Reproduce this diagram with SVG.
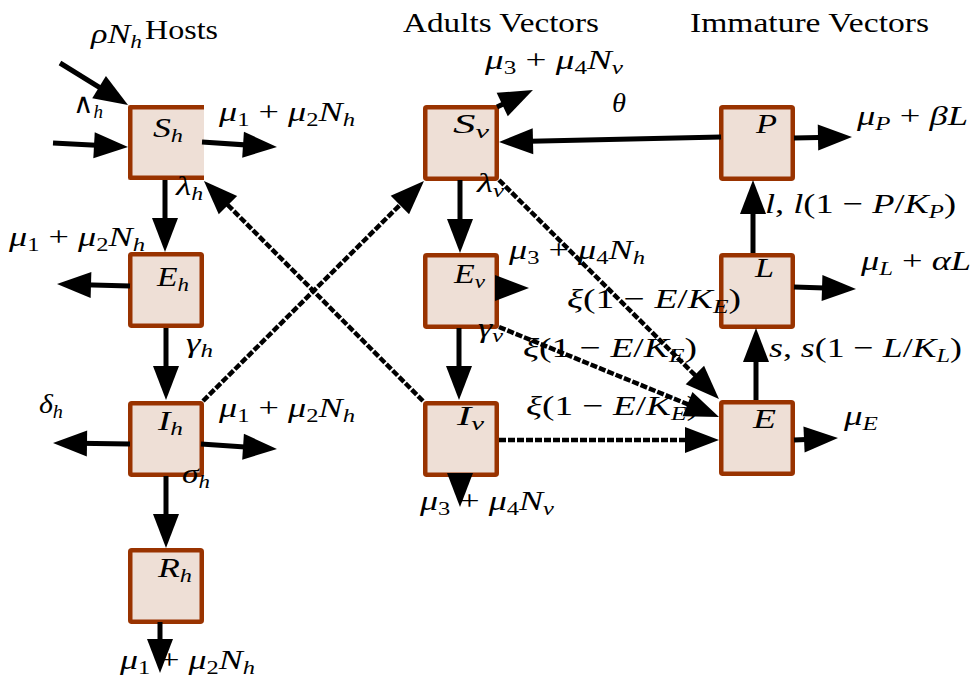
<svg xmlns="http://www.w3.org/2000/svg" width="973" height="679" viewBox="0 0 973 679">
<defs>
<style>
.box{fill:#EEDFD6;stroke:#993300;stroke-width:4.5;stroke-linejoin:round}
text{font-family:'Liberation Serif','DejaVu Serif',serif;font-size:28px;fill:#000}
.i{font-style:italic}
.sb{font-size:19px}
.c{stroke:#000;stroke-width:5;fill:none;marker-end:url(#ah)}
.d{stroke:#000;stroke-width:4.5;fill:none;stroke-dasharray:7 2;marker-end:url(#ah)}
</style>
<marker id="ah" markerUnits="userSpaceOnUse" markerWidth="36" markerHeight="28" viewBox="0 0 36 28" refX="26" refY="13" orient="auto" overflow="visible">
<path d="M0,0 L34,13 L0,26 Z" fill="#000"/>
</marker>
</defs>

<g id="Sh">
<rect x="128" y="105" width="76" height="75" fill="#EEDFD6"/>
<path d="M204,107.25 H130.25 V177.75 H204" fill="none" stroke="#993300" stroke-width="4.5" stroke-linejoin="round"/>
<text x="153" y="137" textLength="30" lengthAdjust="spacingAndGlyphs"><tspan class="i">S</tspan><tspan class="sb i" dy="5">h</tspan></text>
</g>
<g id="Eh">
<rect class="box" x="130.25" y="254.25" width="71.5" height="71.5" rx="1.5"/>
<text x="157" y="286" textLength="32" lengthAdjust="spacingAndGlyphs"><tspan class="i">E</tspan><tspan class="sb i" dy="5">h</tspan></text>
</g>
<g id="Ih">
<rect class="box" x="130.25" y="403.25" width="71.5" height="71.5" rx="1.5"/>
<text x="158" y="430" textLength="25" lengthAdjust="spacingAndGlyphs"><tspan class="i">I</tspan><tspan class="sb i" dy="5">h</tspan></text>
</g>
<g id="Rh">
<rect class="box" x="130.25" y="550.25" width="71.5" height="71.5" rx="1.5"/>
<text x="158" y="577" textLength="34" lengthAdjust="spacingAndGlyphs"><tspan class="i">R</tspan><tspan class="sb i" dy="5">h</tspan></text>
</g>
<g id="Sv">
<rect class="box" x="425.25" y="107.25" width="71.5" height="71.5" rx="1.5"/>
<text x="453" y="133" textLength="36" lengthAdjust="spacingAndGlyphs"><tspan class="i">S</tspan><tspan class="sb i" dy="5">v</tspan></text>
</g>
<g id="Ev">
<rect class="box" x="425.25" y="255.25" width="71.5" height="71.5" rx="1.5"/>
<text x="454" y="283" textLength="31" lengthAdjust="spacingAndGlyphs"><tspan class="i">E</tspan><tspan class="sb i" dy="5">v</tspan></text>
</g>
<g id="Iv">
<rect class="box" x="425.25" y="403.25" width="71.5" height="71.5" rx="1.5"/>
<text x="457" y="425" textLength="27" lengthAdjust="spacingAndGlyphs"><tspan class="i">I</tspan><tspan class="sb i" dy="5">v</tspan></text>
</g>
<g id="P">
<rect class="box" x="721.25" y="107.25" width="71.5" height="71.5" rx="1.5"/>
<text class="i" x="756" y="133" textLength="21" lengthAdjust="spacingAndGlyphs">P</text>
</g>
<g id="L">
<rect class="box" x="721.25" y="255.25" width="71.5" height="71.5" rx="1.5"/>
<text class="i" x="755" y="277" textLength="19" lengthAdjust="spacingAndGlyphs">L</text>
</g>
<g id="E">
<rect class="box" x="721.25" y="402.25" width="71.5" height="71.5" rx="1.5"/>
<text class="i" x="753" y="428" textLength="23" lengthAdjust="spacingAndGlyphs">E</text>
</g>

<g id="labels">
<text x="145" y="39" textLength="73" lengthAdjust="spacingAndGlyphs">Hosts</text>
<text x="403" y="32" textLength="196" lengthAdjust="spacingAndGlyphs">Adults Vectors</text>
<text x="690" y="32" textLength="239" lengthAdjust="spacingAndGlyphs">Immature Vectors</text>
<text x="91" y="43" textLength="51" lengthAdjust="spacingAndGlyphs"><tspan class="i">ρN</tspan><tspan class="sb i" dy="5">h</tspan></text>
<text x="73" y="113" textLength="30" lengthAdjust="spacingAndGlyphs">∧<tspan class="sb i" dy="5">h</tspan></text>
<text x="219" y="121" textLength="136" lengthAdjust="spacingAndGlyphs"><tspan class="i">μ</tspan><tspan class="sb" dy="5">1</tspan><tspan dy="-5"> + </tspan><tspan class="i">μ</tspan><tspan class="sb" dy="5">2</tspan><tspan class="i" dy="-5">N</tspan><tspan class="sb i" dy="5">h</tspan></text>
<text x="176" y="195" textLength="27" lengthAdjust="spacingAndGlyphs"><tspan class="i">λ</tspan><tspan class="sb i" dy="5">h</tspan></text>
<text x="9" y="246" textLength="136" lengthAdjust="spacingAndGlyphs"><tspan class="i">μ</tspan><tspan class="sb" dy="5">1</tspan><tspan dy="-5"> + </tspan><tspan class="i">μ</tspan><tspan class="sb" dy="5">2</tspan><tspan class="i" dy="-5">N</tspan><tspan class="sb i" dy="5">h</tspan></text>
<text x="186" y="352" textLength="27" lengthAdjust="spacingAndGlyphs"><tspan class="i">γ</tspan><tspan class="sb i" dy="5">h</tspan></text>
<text x="39" y="413" textLength="24" lengthAdjust="spacingAndGlyphs"><tspan class="i">δ</tspan><tspan class="sb i" dy="5">h</tspan></text>
<text x="219" y="417" textLength="136" lengthAdjust="spacingAndGlyphs"><tspan class="i">μ</tspan><tspan class="sb" dy="5">1</tspan><tspan dy="-5"> + </tspan><tspan class="i">μ</tspan><tspan class="sb" dy="5">2</tspan><tspan class="i" dy="-5">N</tspan><tspan class="sb i" dy="5">h</tspan></text>
<text x="182" y="483" textLength="28" lengthAdjust="spacingAndGlyphs"><tspan class="i">σ</tspan><tspan class="sb i" dy="5">h</tspan></text>
<text x="120" y="669" textLength="135" lengthAdjust="spacingAndGlyphs"><tspan class="i">μ</tspan><tspan class="sb" dy="5">1</tspan><tspan dy="-5"> + </tspan><tspan class="i">μ</tspan><tspan class="sb" dy="5">2</tspan><tspan class="i" dy="-5">N</tspan><tspan class="sb i" dy="5">h</tspan></text>
<text x="485" y="69" textLength="138" lengthAdjust="spacingAndGlyphs"><tspan class="i">μ</tspan><tspan class="sb" dy="5">3</tspan><tspan dy="-5"> + </tspan><tspan class="i">μ</tspan><tspan class="sb" dy="5">4</tspan><tspan class="i" dy="-5">N</tspan><tspan class="sb i" dy="5">v</tspan></text>
<text class="i" x="612" y="112" textLength="14" lengthAdjust="spacingAndGlyphs">θ</text>
<text x="477" y="192" textLength="27" lengthAdjust="spacingAndGlyphs"><tspan class="i">λ</tspan><tspan class="sb i" dy="5">v</tspan></text>
<text x="857" y="125" textLength="111" lengthAdjust="spacingAndGlyphs"><tspan class="i">μ</tspan><tspan class="sb i" dy="5">P</tspan><tspan dy="-5"> + </tspan><tspan class="i">βL</tspan></text>
<text x="765" y="213" textLength="191" lengthAdjust="spacingAndGlyphs"><tspan class="i">l</tspan>, <tspan class="i">l</tspan>(1 − <tspan class="i">P</tspan>/<tspan class="i">K</tspan><tspan class="sb i" dy="5">P</tspan><tspan dy="-5">)</tspan></text>
<text x="509" y="259" textLength="136" lengthAdjust="spacingAndGlyphs"><tspan class="i">μ</tspan><tspan class="sb" dy="5">3</tspan><tspan dy="-5"> + </tspan><tspan class="i">μ</tspan><tspan class="sb" dy="5">4</tspan><tspan class="i" dy="-5">N</tspan><tspan class="sb i" dy="5">h</tspan></text>
<text x="861" y="270" textLength="110" lengthAdjust="spacingAndGlyphs"><tspan class="i">μ</tspan><tspan class="sb i" dy="5">L</tspan><tspan dy="-5"> + </tspan><tspan class="i">αL</tspan></text>
<text x="567" y="308" textLength="174" lengthAdjust="spacingAndGlyphs"><tspan class="i">ξ</tspan>(1 − <tspan class="i">E</tspan>/<tspan class="i">K</tspan><tspan class="sb i" dy="5">E</tspan><tspan dy="-5">)</tspan></text>
<text x="478" y="337" textLength="25" lengthAdjust="spacingAndGlyphs"><tspan class="i">γ</tspan><tspan class="sb i" dy="5">v</tspan></text>
<text x="523" y="357" textLength="174" lengthAdjust="spacingAndGlyphs"><tspan class="i">ξ</tspan>(1 − <tspan class="i">E</tspan>/<tspan class="i">K</tspan><tspan class="sb i" dy="5">E</tspan><tspan dy="-5">)</tspan></text>
<text x="769" y="357" textLength="193" lengthAdjust="spacingAndGlyphs"><tspan class="i">s</tspan>, <tspan class="i">s</tspan>(1 − <tspan class="i">L</tspan>/<tspan class="i">K</tspan><tspan class="sb i" dy="5">L</tspan><tspan dy="-5">)</tspan></text>
<text x="526" y="415" textLength="173" lengthAdjust="spacingAndGlyphs"><tspan class="i">ξ</tspan>(1 − <tspan class="i">E</tspan>/<tspan class="i">K</tspan><tspan class="sb i" dy="5">E</tspan><tspan dy="-5">)</tspan></text>
<text x="844" y="425" textLength="34" lengthAdjust="spacingAndGlyphs"><tspan class="i">μ</tspan><tspan class="sb i" dy="5">E</tspan></text>
<text x="420" y="510" textLength="134" lengthAdjust="spacingAndGlyphs"><tspan class="i">μ</tspan><tspan class="sb" dy="5">3</tspan><tspan dy="-5"> + </tspan><tspan class="i">μ</tspan><tspan class="sb" dy="5">4</tspan><tspan class="i" dy="-5">N</tspan><tspan class="sb i" dy="5">v</tspan></text>
</g>

<g id="connectors">
<line class="c" x1="60" y1="63" x2="121.2" y2="100.8"/>
<line class="c" x1="53" y1="143" x2="120" y2="146.6"/>
<line class="c" x1="202" y1="142" x2="269" y2="146.5"/>
<line class="c" x1="165" y1="180" x2="165" y2="244"/>
<line class="c" x1="130" y1="286" x2="65" y2="284.2"/>
<line class="c" x1="166" y1="328" x2="166" y2="392"/>
<line class="c" x1="130" y1="444" x2="61" y2="443.1"/>
<line class="c" x1="201" y1="444" x2="269" y2="448.5"/>
<line class="c" x1="166" y1="476" x2="166" y2="540"/>
<line class="c" x1="160" y1="622" x2="160" y2="665"/>
<line class="c" x1="497" y1="107" x2="525.7" y2="93.4"/>
<line class="c" x1="721" y1="137" x2="507" y2="141.8"/>
<line class="c" x1="794" y1="138" x2="844" y2="137.1"/>
<line class="c" x1="460" y1="180" x2="460" y2="245"/>
<line class="c" x1="497" y1="288" x2="521" y2="288"/>
<line class="c" x1="459" y1="328" x2="459" y2="392"/>
<line class="c" x1="460" y1="476" x2="460" y2="499"/>
<line class="c" x1="753" y1="253" x2="753" y2="188"/>
<line class="c" x1="794" y1="287" x2="848" y2="288.7"/>
<line class="c" x1="756" y1="400" x2="756" y2="336"/>
<line class="c" x1="794" y1="440" x2="830" y2="438.4"/>
<line class="d" x1="203" y1="401" x2="418.3" y2="186.6"/>
<line class="d" x1="423" y1="401" x2="209.6" y2="186.7"/>
<line class="d" x1="499" y1="180" x2="713.3" y2="393.4"/>
<line class="d" x1="499" y1="327" x2="711.6" y2="414"/>
<line class="d" x1="499" y1="440" x2="711" y2="440"/>
</g>
</svg>
